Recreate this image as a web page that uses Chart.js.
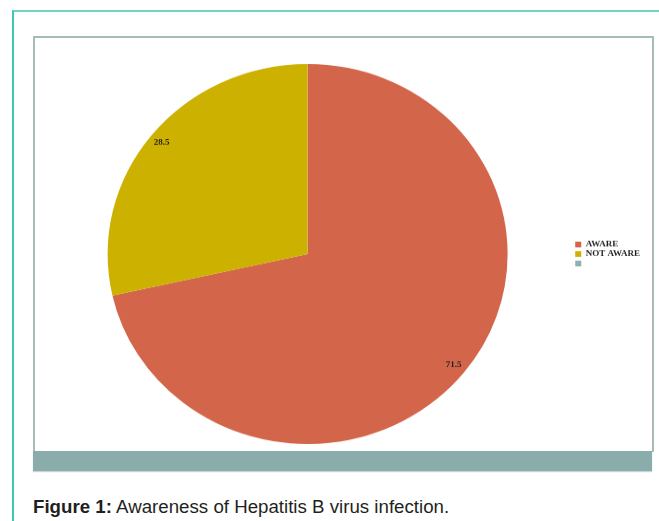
<!DOCTYPE html>
<html>
<head>
<meta charset="utf-8">
<script src="https://cdn.jsdelivr.net/npm/chart.js@4/dist/chart.umd.min.js"></script>
<style>
  body { margin: 0; background: #fff; width: 659px; height: 521px; overflow: hidden; position: relative; }
  #frame { position: absolute; left: 12px; top: 10px; width: 700px; height: 600px; border-left: 2px solid #3cc8b0; border-top: 2px solid #6fd6c2; }
  #box { position: absolute; left: 33px; top: 36px; width: 617px; height: 414px; border: 2px solid #a7bbb9; border-bottom: none; }
  #bar { position: absolute; left: 33px; top: 451px; width: 619px; height: 20px; background: #8aacaa; box-shadow: 0 1px 1px #c9d6d5; }
  #wrap { position: absolute; left: 35px; top: 64px; width: 617px; height: 400px; transform: scaleY(0.95); transform-origin: top left; }
  #caption { position: absolute; left: 33px; top: 496px; font-family: "Liberation Sans", Arial, sans-serif; font-size: 18.7px; color: #231f20; }
</style>
</head>
<body>
<div id="frame"></div>
<div id="box"></div>
<div id="bar"></div>
<div id="wrap"><canvas id="pie-canvas" width="617" height="400"></canvas></div>
<div id="caption"><b>Figure 1:</b> Awareness of Hepatitis B virus infection.</div>

<script>
let categories = ['AWARE', 'NOT AWARE', ''];
let values = [71.5, 28.5, 0];
let colours = ['#d3654a', '#cdb100', '#8fb0b0'];

// draws the value inside each slice, near the rim
let sliceLabels = {
    id: 'sliceLabels',
    afterDatasetsDraw(chart){
        let ctx = chart.ctx;
        let meta = chart.getDatasetMeta(0);
        ctx.save();
        ctx.font = 'bold 9px "Liberation Serif", "Times New Roman", serif';
        ctx.fillStyle = '#231f20';
        ctx.textAlign = 'center';
        ctx.textBaseline = 'middle';
        meta.data.forEach((arc, i) => {
            if(!values[i]) return
            let mid = (arc.startAngle + arc.endAngle) / 2;
            let r = arc.outerRadius * 0.935;
            ctx.fillText(values[i], arc.x + Math.cos(mid) * r, arc.y + Math.sin(mid) * r);
        });
        ctx.restore();
    }
};

let ctx = document.getElementById('pie-canvas').getContext('2d');
let chart = new Chart(ctx, {
    type: 'pie',
    data: {
        labels: categories,
        datasets: [{
            data: values,
            backgroundColor: colours,
            borderWidth: 0
        }]
    },
    options: {
        responsive: false,
        animation: false,
        layout: { padding: { left: 6, right: 2, top: 0, bottom: 0 } },
        plugins: {
            legend: {
                position: 'right',
                labels: {
                    boxWidth: 6,
                    boxHeight: 6,
                    padding: 1,
                    color: '#231f20',
                    font: { family: '"Liberation Serif", "Times New Roman", serif', size: 9, weight: 'bold' }
                }
            },
            tooltip: { enabled: false }
        }
    },
    plugins: [sliceLabels]
});
</script>
</body>
</html>
